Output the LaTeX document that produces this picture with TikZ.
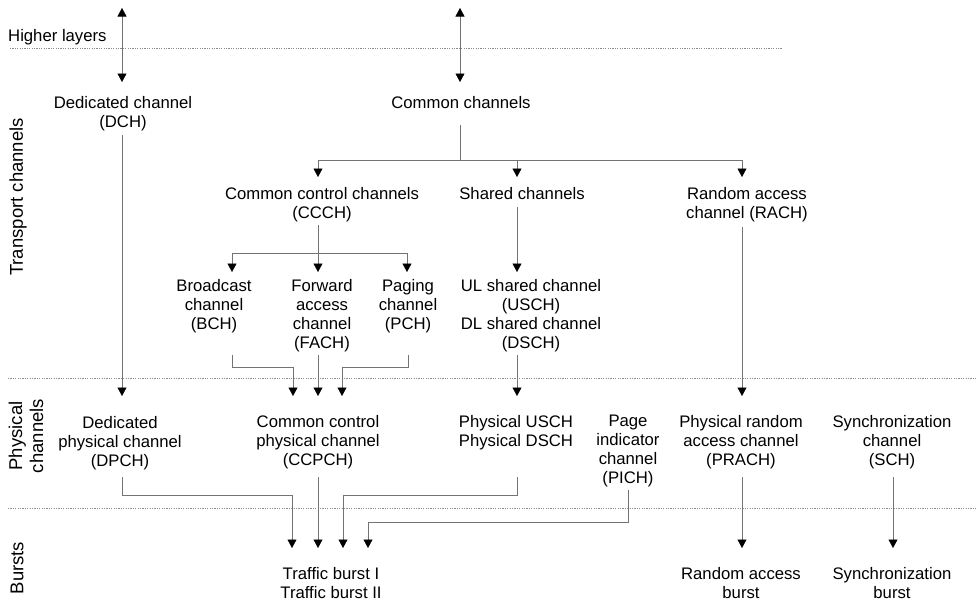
\documentclass[tikz,border=0pt]{standalone}
\usepackage{fontspec}
\setmainfont{Liberation Sans}
\usetikzlibrary{arrows.meta}
\begin{document}
\begin{tikzpicture}[x=1pt,y=-1pt,
  lbl/.style={font=\fontsize{16.7}{19}\selectfont, align=center, inner sep=0pt, text=black},
  side/.style={font=\fontsize{18.5}{21}\selectfont, align=center, inner sep=0pt, rotate=90, text=black},
  ln/.style={draw=black!55, line width=0.6pt},
  arr/.style={ln, -{Triangle[width=9pt,length=8.5pt,color=black]}},
  dbl/.style={ln, {Triangle[width=9pt,length=8.5pt,color=black]}-{Triangle[width=9pt,length=8.5pt,color=black]}},
  sep/.style={draw=black!45, line width=0.6pt, dash pattern=on 1.2pt off 1.2pt}]
\useasboundingbox[fill=white] (0,0) rectangle (977,603);

% layer separators
\draw[sep] (10,48) -- (782,48);
\draw[sep] (8,378) -- (977,378);
\draw[sep] (8,508) -- (977,508);

% side labels
\node[lbl, anchor=base west] (hl) at (8,41) {Higher layers};
\node[side] (tc) at (18,197) {Transport channels};
\node[side] (pc) at (26,436) {Physical\\channels};
\node[side] (bu) at (17,568) {Bursts};

% transport channels
\node[lbl, anchor=north] (dch) at (123,96) {Dedicated channel\\(DCH)};
\node[lbl, anchor=base] (cc) at (461,108) {Common channels};
\node[lbl, anchor=north] (ccch) at (322,187) {Common control channels\\(CCCH)};
\node[lbl, anchor=base] (shc) at (522,199) {Shared channels};
\node[lbl, anchor=north] (rach) at (747,187) {Random access\\channel (RACH)};
\node[lbl, anchor=north] (bch) at (214,279) {Broadcast\\channel\\(BCH)};
\node[lbl, anchor=north] (fach) at (322,279) {Forward\\access\\channel\\(FACH)};
\node[lbl, anchor=north] (pch) at (408,279) {Paging\\channel\\(PCH)};
\node[lbl, anchor=north] (usch) at (531,279) {UL shared channel\\(USCH)\\DL shared channel\\(DSCH)};

% physical channels
\node[lbl, anchor=north] (dpch) at (120,416) {Dedicated\\physical channel\\(DPCH)};
\node[lbl, anchor=north] (ccpch) at (318,415) {Common control\\physical channel\\(CCPCH)};
\node[lbl, anchor=north] (pusch) at (516,415) {Physical USCH\\Physical DSCH};
\node[lbl, anchor=north] (pich) at (628,415) {Page\\indicator\\channel\\(PICH)};
\node[lbl, anchor=north] (prach) at (741,415) {Physical random\\access channel\\(PRACH)};
\node[lbl, anchor=north] (sch) at (892,415) {Synchronization\\channel\\(SCH)};

% bursts
\node[lbl, anchor=north] (tb) at (331,567) {Traffic burst I\\Traffic burst II};
\node[lbl, anchor=north] (rab) at (741,567) {Random access\\burst};
\node[lbl, anchor=north] (sb) at (892,567) {Synchronization\\burst};

% free ends and junctions
\coordinate (hlA) at (122,8);
\coordinate (hlB) at (460,8);
\coordinate (j1) at (460,160);
\coordinate (j2) at (318,253);

% higher layers <-> transport
\draw[dbl] (hlA) -- (hlA |- 0,82);
\draw[dbl] (hlB) -- (hlB |- 0,82);

% dedicated
\draw[arr] (122,135) -- (122,396);

% common channels tree
\draw[ln] (j1 |- 0,125) -- (j1);
\draw[arr] (j1) -| (318,177);
\draw[arr] (j1) -| (742,177);
\draw[arr] (517,160) -- (517,177);

% CCCH tree
\draw[ln] (318,225) -- (j2);
\draw[arr] (j2) -| (232,272);
\draw[arr] (j2) -| (407,272);
\draw[arr] (j2) -- (318,272);

% shared
\draw[arr] (517,207) -- (517,272);
% RACH
\draw[arr] (742,227) -- (742,396);

% transport -> physical
\draw[arr] (232,355) |- (293,367) -- (293,396);
\draw[arr] (318,355) -- (318,396);
\draw[arr] (408,355) |- (342,367) -- (342,396);
\draw[arr] (517,355) -- (517,396);

% physical -> bursts
\draw[arr] (122,477) |- (292,495) -- (292,548);
\draw[arr] (318,477) -- (318,548);
\draw[arr] (517,477) |- (343,495) -- (343,548);
\draw[arr] (628,490) |- (368,522) -- (368,548);
\draw[arr] (742,477) -- (742,548);
\draw[arr] (893,477) -- (893,548);
\end{tikzpicture}
\end{document}
